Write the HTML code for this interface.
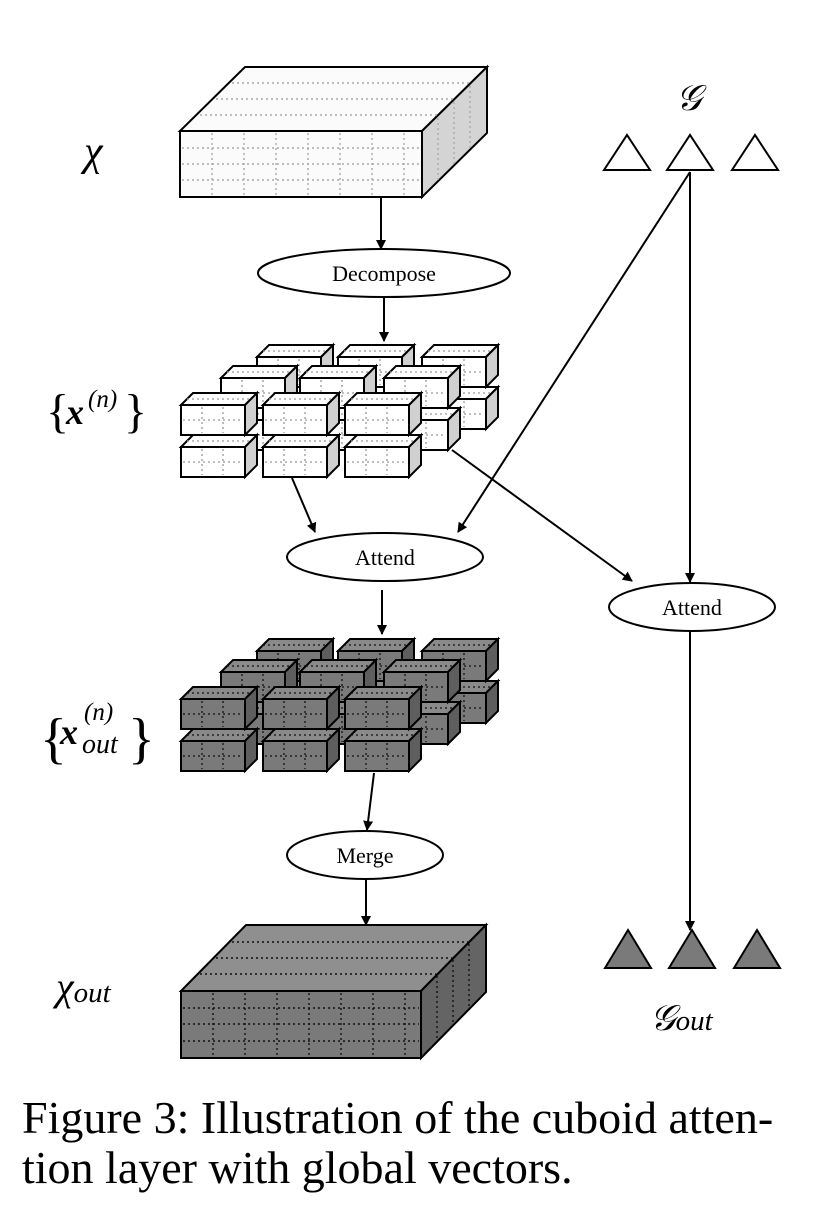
<!DOCTYPE html>
<html><head><meta charset="utf-8"><style>
html,body{margin:0;padding:0;background:#fff;width:836px;height:1212px;overflow:hidden}
svg{display:block}
</style></head><body>
<svg width="836" height="1212" viewBox="0 0 836 1212" xmlns="http://www.w3.org/2000/svg">
<defs>
<marker id="ar" markerWidth="10" markerHeight="10" refX="9" refY="5" orient="auto" markerUnits="userSpaceOnUse">
<path d="M0,0 L10,5 L0,10 z" fill="#000"/></marker>
<g id="wb">
<polygon points="0,12 12,0 76,0 64,12" fill="#fff" stroke="#000" stroke-width="2"/>
<polygon points="64,12 76,0 76,30 64,42" fill="#d0d0d0" stroke="#000" stroke-width="2"/>
<rect x="0" y="12" width="64" height="30" fill="#fff" stroke="#000" stroke-width="2"/>
<g stroke="#999" stroke-width="1.3" stroke-dasharray="2,3" fill="none">
<line x1="2" y1="27" x2="62" y2="27"/><line x1="21" y1="14" x2="21" y2="40"/><line x1="42" y1="14" x2="42" y2="40"/>
<line x1="6" y1="6" x2="70" y2="6"/></g>
</g>
<g id="gb">
<polygon points="0,12 12,0 76,0 64,12" fill="#8a8a8a" stroke="#000" stroke-width="2"/>
<polygon points="64,12 76,0 76,30 64,42" fill="#5e5e5e" stroke="#000" stroke-width="2"/>
<rect x="0" y="12" width="64" height="30" fill="#7a7a7a" stroke="#000" stroke-width="2"/>
<g stroke="#111" stroke-width="1.3" stroke-dasharray="2,3" fill="none">
<line x1="2" y1="27" x2="62" y2="27"/><line x1="21" y1="14" x2="21" y2="40"/><line x1="42" y1="14" x2="42" y2="40"/>
<line x1="6" y1="6" x2="70" y2="6"/></g>
</g>
</defs>

<!-- top cuboid -->
<polygon points="180,131 245,67 487,67 422,131" fill="#fbfbfb" stroke="#000" stroke-width="2"/>
<polygon points="422,131 487,67 487,133 422,197" fill="#d4d4d4" stroke="#000" stroke-width="2"/>
<rect x="180" y="131" width="242" height="66" fill="#fbfbfb" stroke="#000" stroke-width="2"/>
<g stroke="#aaa" stroke-width="1.4" stroke-dasharray="2,3">
<line x1="182" y1="148" x2="420" y2="148"/><line x1="182" y1="164" x2="420" y2="164"/><line x1="182" y1="180" x2="420" y2="180"/>
<line x1="212" y1="133" x2="212" y2="195"/><line x1="244" y1="133" x2="244" y2="195"/><line x1="276" y1="133" x2="276" y2="195"/><line x1="308" y1="133" x2="308" y2="195"/><line x1="340" y1="133" x2="340" y2="195"/><line x1="372" y1="133" x2="372" y2="195"/><line x1="404" y1="133" x2="404" y2="195"/>
<line x1="200" y1="115" x2="438" y2="115"/><line x1="216" y1="99" x2="454" y2="99"/><line x1="232" y1="83" x2="470" y2="83"/>
<line x1="438" y1="118" x2="438" y2="182"/><line x1="454" y1="102" x2="454" y2="166"/><line x1="470" y1="86" x2="470" y2="150"/>
</g>

<!-- bottom cuboid -->
<polygon points="181,991 246,925 486,925 421,991" fill="#8f8f8f" stroke="#000" stroke-width="2"/>
<polygon points="421,991 486,925 486,992 421,1058" fill="#646464" stroke="#000" stroke-width="2"/>
<rect x="181" y="991" width="240" height="67" fill="#7a7a7a" stroke="#000" stroke-width="2"/>
<g stroke="#111" stroke-width="1.4" stroke-dasharray="2,3">
<line x1="183" y1="1008" x2="419" y2="1008"/><line x1="183" y1="1024" x2="419" y2="1024"/><line x1="183" y1="1041" x2="419" y2="1041"/>
<line x1="213" y1="993" x2="213" y2="1056"/><line x1="245" y1="993" x2="245" y2="1056"/><line x1="277" y1="993" x2="277" y2="1056"/><line x1="309" y1="993" x2="309" y2="1056"/><line x1="341" y1="993" x2="341" y2="1056"/><line x1="373" y1="993" x2="373" y2="1056"/><line x1="405" y1="993" x2="405" y2="1056"/>
<line x1="200" y1="974" x2="436" y2="974"/><line x1="216" y1="958" x2="452" y2="958"/><line x1="232" y1="942" x2="468" y2="942"/>
<line x1="437" y1="976" x2="437" y2="1040"/><line x1="453" y1="960" x2="453" y2="1024"/><line x1="469" y1="944" x2="469" y2="1008"/>
</g>

<!-- white small cubes -->
<g>
<use href="#wb" x="257" y="387"/><use href="#wb" x="338" y="387"/><use href="#wb" x="422" y="387"/>
<use href="#wb" x="257" y="345"/><use href="#wb" x="338" y="345"/><use href="#wb" x="422" y="345"/>
<use href="#wb" x="221" y="408"/><use href="#wb" x="300" y="408"/><use href="#wb" x="384" y="408"/>
<use href="#wb" x="221" y="366"/><use href="#wb" x="300" y="366"/><use href="#wb" x="384" y="366"/>
<use href="#wb" x="181" y="435"/><use href="#wb" x="263" y="435"/><use href="#wb" x="345" y="435"/>
<use href="#wb" x="181" y="393"/><use href="#wb" x="263" y="393"/><use href="#wb" x="345" y="393"/>
</g>
<!-- gray small cubes -->
<g>
<use href="#gb" x="257" y="681"/><use href="#gb" x="338" y="681"/><use href="#gb" x="422" y="681"/>
<use href="#gb" x="257" y="639"/><use href="#gb" x="338" y="639"/><use href="#gb" x="422" y="639"/>
<use href="#gb" x="221" y="702"/><use href="#gb" x="300" y="702"/><use href="#gb" x="384" y="702"/>
<use href="#gb" x="221" y="660"/><use href="#gb" x="300" y="660"/><use href="#gb" x="384" y="660"/>
<use href="#gb" x="181" y="729"/><use href="#gb" x="263" y="729"/><use href="#gb" x="345" y="729"/>
<use href="#gb" x="181" y="687"/><use href="#gb" x="263" y="687"/><use href="#gb" x="345" y="687"/>
</g>

<!-- arrows -->
<g stroke="#000" stroke-width="2" fill="none" marker-end="url(#ar)">
<line x1="381" y1="197" x2="381" y2="249"/>
<line x1="384" y1="297" x2="384" y2="341"/>
<line x1="292" y1="478" x2="315" y2="532"/>
<line x1="690" y1="172" x2="458" y2="532"/>
<line x1="690" y1="172" x2="690" y2="582"/>
<line x1="452" y1="450" x2="632" y2="581"/>
<line x1="382" y1="590" x2="382" y2="634"/>
<line x1="690" y1="631" x2="690" y2="930"/>
<line x1="374" y1="773" x2="367" y2="830"/>
<line x1="366" y1="880" x2="366" y2="925"/>
</g>

<!-- ellipses -->
<g fill="#fff" stroke="#000" stroke-width="2">
<ellipse cx="384" cy="273" rx="126" ry="24"/>
<ellipse cx="385" cy="557" rx="98" ry="24"/>
<ellipse cx="692" cy="607" rx="83" ry="24"/>
<ellipse cx="365" cy="855" rx="78" ry="24"/>
</g>
<g font-family="Liberation Serif, serif" font-size="22" text-anchor="middle" fill="#000">
<text x="384" y="281">Decompose</text>
<text x="385" y="565">Attend</text>
<text x="692" y="615">Attend</text>
<text x="365" y="863">Merge</text>
</g>

<!-- triangles -->
<g fill="#fff" stroke="#000" stroke-width="2">
<polygon points="604,170 627,135 650,170"/>
<polygon points="667,170 690,135 713,170"/>
<polygon points="732,170 755,135 778,170"/>
</g>
<g fill="#7a7a7a" stroke="#000" stroke-width="2">
<polygon points="605,968 628,930 651,968"/>
<polygon points="669,968 692,930 715,968"/>
<polygon points="734,968 757,930 780,968"/>
</g>

<!-- labels -->
<g font-family="Liberation Serif, serif" font-style="italic" fill="#000">
<text x="84" y="165" font-size="42">χ</text>
<text x="676" y="110" font-size="36">𝒢</text>
<text x="56" y="1000" font-size="40">χ<tspan font-size="29" dy="2">out</tspan></text>
<text x="650" y="1030" font-size="36">𝒢<tspan font-size="29" dy="0">out</tspan></text>
<text x="46" y="427" font-size="48" font-style="normal">{</text>
<text x="66" y="424" font-size="36" font-weight="bold">x</text>
<text x="88" y="407" font-size="25">(n)</text>
<text x="124" y="427" font-size="48" font-style="normal">}</text>
<text x="40" y="757" font-size="56" font-style="normal">{</text>
<text x="60" y="744" font-size="36" font-weight="bold">x</text>
<text x="84" y="720" font-size="25">(n)</text>
<text x="82" y="753" font-size="28">out</text>
<text x="128" y="757" font-size="56" font-style="normal">}</text>
</g>

<!-- caption -->
<g font-family="Liberation Serif, serif" font-size="46" fill="#000">
<text x="22" y="1133">Figure 3: Illustration of the cuboid atten-</text>
<text x="22" y="1183">tion layer with global vectors.</text>
</g>
</svg>
</body></html>
